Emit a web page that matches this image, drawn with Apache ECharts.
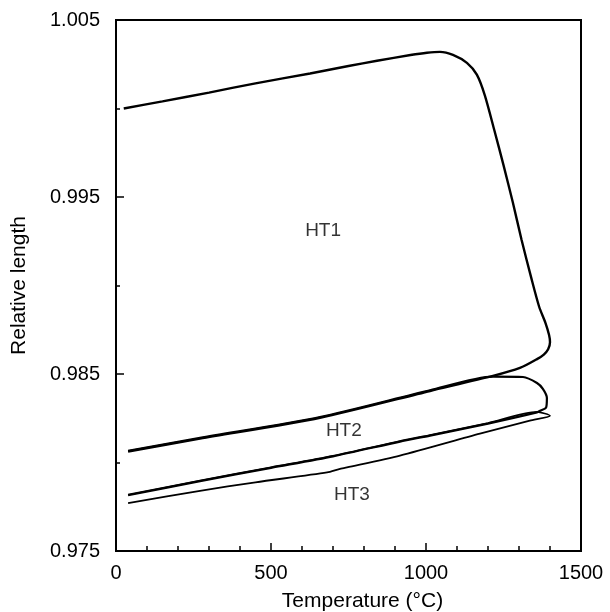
<!DOCTYPE html>
<html>
<head>
<meta charset="utf-8">
<script src="https://cdn.jsdelivr.net/npm/echarts@6/dist/echarts.min.js"></script>
<style>html,body{margin:0;padding:0;background:#fff}#c{width:610px;height:612px}</style>
</head>
<body>
<div id="c"></div>
<script>
// Heat treatment 1: heating then cooling
const ht1Temp = [25,150,300,450,626,750,842,950,1003,1045,1087,1132,1164,1190,1220,1250,1280,1308,1340,1365,1385,1397,1400,1394,1380,1358,1303,1216,1013,658,271,39];
const ht1Len  = [1.00000,1.00040,1.00090,1.00142,1.00198,1.00240,1.00270,1.00302,1.00315,1.00320,1.00303,1.00258,1.00191,1.00073,0.99880,0.99680,0.99470,0.99260,0.99040,0.98880,0.98790,0.98720,0.98680,0.98640,0.98610,0.98584,0.98534,0.98489,0.98404,0.98253,0.98135,0.98062];
// Heat treatment 2
const ht2Temp = [39,271,658,1013,1216,1313,1358,1377,1390,1387,1368,1358,1200,1013,916,700,500,271,39];
const ht2Len  = [0.98066,0.98139,0.98257,0.98408,0.98485,0.98483,0.98449,0.98416,0.98365,0.98309,0.98292,0.98283,0.98220,0.98152,0.98118,0.98035,0.97970,0.97895,0.97815];
// Heat treatment 3
const ht3Temp = [39,271,500,700,916,1013,1200,1358,1400,1335,1174,916,745,720,681,450,271,39];
const ht3Len  = [0.97818,0.97898,0.97973,0.98038,0.98121,0.98155,0.98223,0.98286,0.98264,0.98236,0.98163,0.98039,0.97972,0.97963,0.97944,0.97888,0.97840,0.97770];
// Curve labels
const labelNames = ['HT1','HT2','HT3'];
const labelTemp  = [668,735,761];
const labelLen   = [0.99309,0.98180,0.97815];
// Axis settings
const xTicks = [0,500,1000,1500];
const yMin = 0.975, yMax = 1.005;

const FONT = "'Liberation Sans', Arial, Helvetica, sans-serif";
const pairs = (t,l) => t.map((v,i)=>[v,l[i]]);
const lineSeries = (name,t,l,w) => ({
  name, type:'line', data: pairs(t,l), showSymbol:false, symbol:'none',
  smooth:0.25, lineStyle:{color:'#000', width:w}, silent:true, animation:false,
  xAxisIndex:0, yAxisIndex:0
});

const chart = echarts.init(document.getElementById('c'), null, {renderer:'canvas'});
chart.setOption({
  backgroundColor:'#fff',
  animation:false,
  grid:{left:116, right:29, top:20, bottom:61, show:true, borderColor:'#000', borderWidth:2,
        backgroundColor:'transparent', containLabel:false, outerBoundsMode:'none'},
  xAxis:{
    type:'value', min:xTicks[0], max:xTicks[xTicks.length-1], interval:500,
    name:'Temperature (°C)', nameLocation:'middle', nameGap:40,
    nameTextStyle:{fontFamily:FONT, fontSize:21, color:'#000', padding:[0,0,0,28]},
    axisLine:{show:true, lineStyle:{color:'#000', width:2}},
    axisTick:{show:true, inside:true, length:8, lineStyle:{color:'#000', width:1.5}},
    minorTick:{show:true, splitNumber:5, length:5, lineStyle:{color:'#000', width:1.5}},
    axisLabel:{fontFamily:FONT, fontSize:20, color:'#000', margin:12, formatter: v => String(v)},
    splitLine:{show:false}, minorSplitLine:{show:false}
  },
  yAxis:[{
    type:'value', min:yMin, max:yMax, interval:0.005,
    name:'Relative length', nameLocation:'middle', nameGap:86,
    nameTextStyle:{fontFamily:FONT, fontSize:21, color:'#000'},
    axisLine:{show:true, lineStyle:{color:'#000', width:2}},
    axisTick:{show:true, inside:true, length:4, lineStyle:{color:'#000', width:1.5}},
    axisLabel:{fontFamily:FONT, fontSize:20, color:'#000', margin:16,
      formatter: v => (Math.round(v*1000) % 10 === 5) ? v.toFixed(3) : ''},
    splitLine:{show:false}
  },{
    type:'value', position:'left', min:0.97, max:1.0, interval:0.01,
    axisLine:{show:false}, axisLabel:{show:false}, splitLine:{show:false},
    axisTick:{show:true, inside:true, length:8, lineStyle:{color:'#000', width:1.5}}
  }],
  series:[
    lineSeries('HT1', ht1Temp, ht1Len, 2.4),
    lineSeries('HT2', ht2Temp, ht2Len, 2.2),
    lineSeries('HT3', ht3Temp, ht3Len, 1.8),
    {
      type:'scatter', symbolSize:0, silent:true,
      data: labelNames.map((n,i)=>({name:n, value:[labelTemp[i], labelLen[i]]})),
      label:{show:true, position:'inside', formatter:p=>p.name, fontFamily:FONT, fontSize:19, color:'#000'}
    }
  ]
});
</script>
</body>
</html>
